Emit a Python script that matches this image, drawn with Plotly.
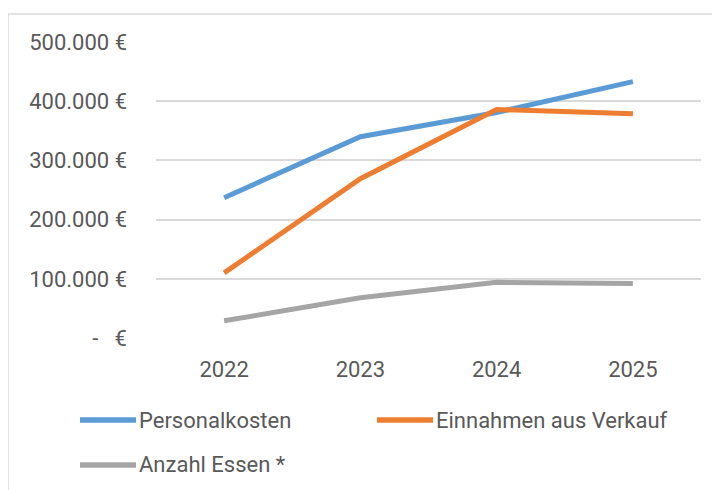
import plotly.graph_objects as go

years = ["2022", "2023", "2024", "2025"]
personalkosten = [237000, 340000, 381000, 433000]
einnahmen = [110000, 269000, 386000, 379000]
anzahl_essen = [29000, 68000, 94000, 92000]

series_names = ["Personalkosten", "Einnahmen aus Verkauf", "Anzahl Essen *"]
series_values = [personalkosten, einnahmen, anzahl_essen]
series_colors = ["#5B9BD5", "#ED7D31", "#A5A5A5"]

tick_vals = [0, 100000, 200000, 300000, 400000, 500000]
tick_text = ["-   €", "100.000 €", "200.000 €", "300.000 €", "400.000 €", "500.000 €"]

FONT = "Roboto, sans-serif"
INK = "#595959"
GRID = "#D9D9D9"

# the html body adds an 8px offset; layout numbers below are in screen pixels
OFF = 8
W, H = 720, 490
L, T = 156 - OFF, 42 - OFF
R, B = W - (701 - OFF), H - (338 - OFF)
PW, PH = W - L - R, H - T - B


def px_x(px):
    return (px - OFF - L) / PW


def px_y(py):
    return (H - B - (py - OFF)) / PH


fig = go.Figure()
for name, vals, color in zip(series_names, series_values, series_colors):
    fig.add_trace(go.Scatter(x=years, y=vals, mode="lines", name=name,
                             line=dict(color=color, width=5)))

# chart-area border, cropped at right/bottom like the source screenshot
fig.add_shape(type="rect", xref="paper", yref="paper",
              x0=px_x(8), x1=px_x(740), y0=px_y(510), y1=px_y(14),
              line=dict(color=GRID, width=1.5), fillcolor="rgba(0,0,0,0)", layer="below")

# Excel-style legend: long swatch + label, two columns / two rows
legend_pos = [(80, 420), (377, 420), (80, 465)]
for name, color, (lx, ly) in zip(series_names, series_colors, legend_pos):
    fig.add_shape(type="line", xref="paper", yref="paper",
                  x0=px_x(lx), x1=px_x(lx + 56), y0=px_y(ly), y1=px_y(ly),
                  line=dict(color=color, width=5.5))
    fig.add_annotation(text=name, xref="paper", yref="paper", x=px_x(lx + 57), y=px_y(ly),
                       xanchor="left", yanchor="middle", showarrow=False,
                       font=dict(family=FONT, size=22, color=INK))

fig.update_layout(
    width=W, height=H,
    margin=dict(l=L, r=R, t=T, b=B),
    plot_bgcolor="white", paper_bgcolor="white",
    font=dict(family=FONT, color=INK, size=22),
    showlegend=False,
    xaxis=dict(type="category", range=[-0.5, 3.5], showgrid=False, showline=False, zeroline=False,
               ticks="", tickfont=dict(family=FONT, size=22, color=INK), ticklabelstandoff=16),
    yaxis=dict(range=[0, 500000], tickvals=tick_vals, ticktext=tick_text,
               showgrid=True, gridcolor=GRID, gridwidth=1.5, zeroline=False, showline=False,
               tickfont=dict(family=FONT, size=22, color=INK), ticklabelstandoff=28),
)

fig.write_html("out.html")
